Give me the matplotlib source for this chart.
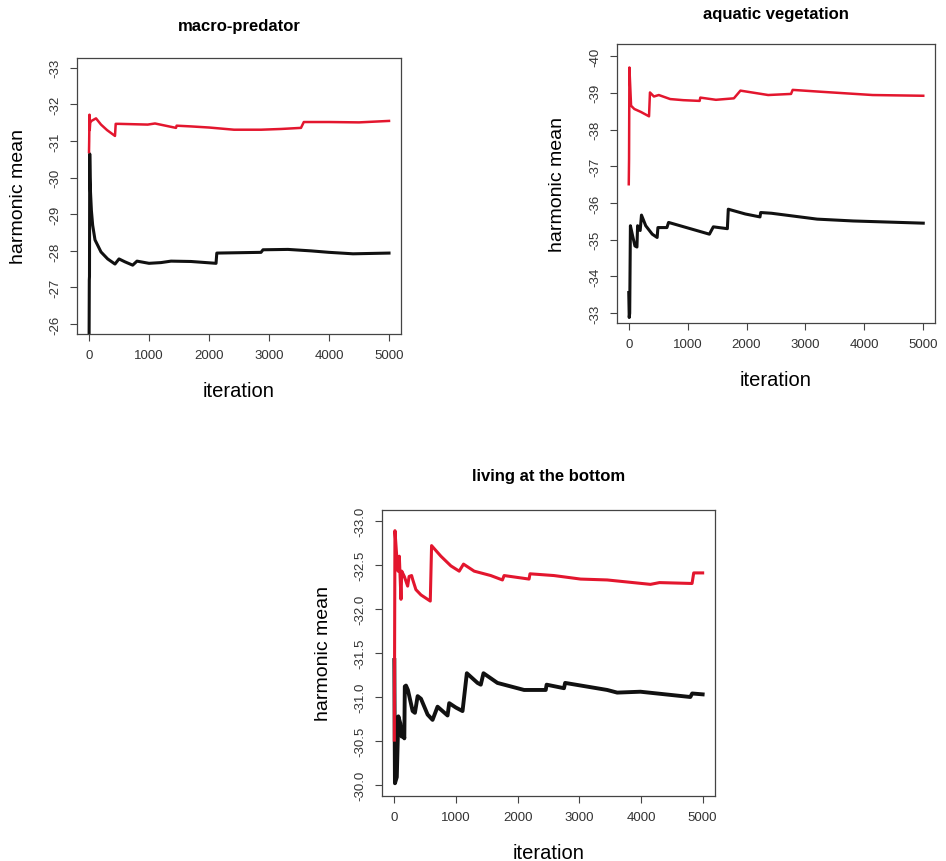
import matplotlib.pyplot as plt

plt.rcParams["font.family"] = ["Liberation Sans", "DejaVu Sans"]

RED = "#e3162e"
BLACK = "#111111"

# macro-predator
mp_red_x = [0, 3, 8, 12, 20, 40, 117, 200, 300, 433, 445, 500, 978, 1100, 1450, 1460, 1700,
            2000, 2417, 2867, 3200, 3533, 3580, 4000, 4500, 5000]
mp_red_y = [-30.7, -31.0, -31.72, -31.3, -31.5, -31.55, -31.62, -31.45, -31.3, -31.14, -31.47, -31.47,
            -31.45, -31.48, -31.36, -31.42, -31.40, -31.37, -31.31, -31.31, -31.33, -31.36, -31.52,
            -31.52, -31.51, -31.55]
mp_blk_x = [0, 5, 8, 12, 18, 25, 40, 61, 100, 200, 311, 433, 500, 600, 728, 800, 1000, 1200,
            1367, 1700, 2117, 2130, 2500, 2867, 2900, 3317, 3700, 4000, 4400, 5000]
mp_blk_y = [-25.0, -27.2, -27.3, -30.65, -30.0, -29.6, -29.1, -28.7, -28.3, -27.97, -27.78,
            -27.64, -27.78, -27.7, -27.61, -27.72, -27.66, -27.68, -27.72, -27.71, -27.66, -27.94,
            -27.95, -27.96, -28.03, -28.04, -28.0, -27.96, -27.92, -27.94]

# aquatic vegetation
av_red_x = [0, 5, 11, 39, 94, 150, 205, 344, 360, 427, 510, 704, 926, 1203, 1215, 1480, 1785,
            1896, 2367, 2755, 2783, 3254, 4140, 5000]
av_red_y = [-36.51, -37.2, -39.69, -38.65, -38.56, -38.52, -38.48, -38.36, -39.01, -38.9,
            -38.94, -38.83, -38.8, -38.78, -38.87, -38.81, -38.85, -39.06, -38.94, -38.97,
            -39.08, -39.03, -38.94, -38.92]
av_blk_x = [0, 8, 16, 28, 66, 105, 139, 150, 194, 216, 288, 399, 482, 495, 648, 676, 1369,
            1436, 1674, 1690, 1979, 2228, 2240, 2422, 3198, 3808, 5000]
av_blk_y = [-33.56, -32.88, -33.0, -35.38, -35.1, -34.83, -34.8, -35.38, -35.25, -35.67,
            -35.38, -35.15, -35.06, -35.33, -35.33, -35.47, -35.15, -35.35, -35.3, -35.83,
            -35.7, -35.62, -35.74, -35.72, -35.56, -35.51, -35.45]

# living at the bottom
lb_red_x = [0, 10, 43, 60, 81, 108, 120, 162, 216, 240, 280, 300, 350, 432, 583, 604, 755,
            917, 1052, 1122, 1295, 1564, 1753, 1780, 2185, 2200, 2589, 3021, 3452, 4153,
            4300, 4828, 4855, 5000]
lb_red_y = [-30.51, -32.89, -32.56, -32.43, -32.6, -32.11, -32.43, -32.37, -32.26, -32.37,
            -32.38, -32.33, -32.22, -32.16, -32.09, -32.72, -32.6, -32.49, -32.43, -32.51,
            -32.43, -32.38, -32.33, -32.38, -32.34, -32.4, -32.38, -32.34, -32.33, -32.28,
            -32.3, -32.29, -32.41, -32.41]
lb_blk_x = [0, 10, 40, 65, 97, 119, 135, 162, 170, 189, 220, 297, 334, 378, 432, 540, 620,
            701, 863, 890, 998, 1106, 1176, 1349, 1402, 1446, 1672, 2104, 2455, 2470, 2751,
            2770, 3452, 3614, 3991, 4800, 4830, 5000]
lb_blk_y = [-31.42, -30.02, -30.09, -30.78, -30.7, -30.55, -30.65, -30.53, -31.12, -31.13,
            -31.08, -30.84, -30.82, -31.01, -30.98, -30.8, -30.74, -30.89, -30.79, -30.93,
            -30.88, -30.84, -31.27, -31.16, -31.14, -31.27, -31.16, -31.08, -31.08, -31.14,
            -31.1, -31.16, -31.08, -31.05, -31.06, -31.0, -31.04, -31.03]

XTICKS = [0, 1000, 2000, 3000, 4000, 5000]


def panel(fig, rect, title, red, black, ylim, yticks, yfmt, lw=(1.8, 2.2), label_pos=(-0.182, -0.205, 1.115)):
    ax = fig.add_axes(rect)
    ax.plot(black[0], black[1], color=BLACK, lw=lw[1], solid_joinstyle="round")
    ax.plot(red[0], red[1], color=RED, lw=lw[0], solid_joinstyle="round")
    ax.set_xlim(-200, 5200)
    ax.set_ylim(*ylim)
    ax.set_xticks(XTICKS)
    ax.set_yticks(yticks)
    ax.set_yticklabels([yfmt.format(v) for v in yticks], rotation=90, va="center")
    ax.tick_params(length=5, width=0.8, color="#444444", labelsize=9.5, labelcolor="#333333", pad=6)
    for s in ax.spines.values():
        s.set_color("#444444")
        s.set_linewidth(0.9)
    xl, yl, tl = label_pos
    ax.text(xl, 0.5, "harmonic mean", transform=ax.transAxes, rotation=90, ha="center", va="center", fontsize=14)
    ax.text(0.5, yl, "iteration", transform=ax.transAxes, ha="center", va="center", fontsize=14.5)
    ax.text(0.5, tl, title, transform=ax.transAxes, ha="center", va="center", fontsize=12, fontweight="bold")
    return ax


fig = plt.figure(figsize=(9.46, 8.62), dpi=100)

panel(fig, [0.0814, 0.6114, 0.3425, 0.3202], "macro-predator",
      (mp_red_x, mp_red_y), (mp_blk_x, mp_blk_y),
      (-25.73, -33.27), [-33, -32, -31, -30, -29, -28, -27, -26], "{:.0f}",
      label_pos=(-0.182, -0.2065, 1.116))
panel(fig, [0.6522, 0.6241, 0.3362, 0.3237], "aquatic vegetation",
      (av_red_x, av_red_y), (av_blk_x, av_blk_y),
      (-32.73, -40.33), [-40, -39, -38, -37, -36, -35, -34, -33], "{:.0f}",
      label_pos=(-0.1855, -0.2007, 1.111))
panel(fig, [0.4038, 0.0754, 0.3520, 0.3318], "living at the bottom",
      (lb_red_x, lb_red_y), (lb_blk_x, lb_blk_y),
      (-29.875, -33.125), [-33.0, -32.5, -32.0, -31.5, -31.0, -30.5, -30.0], "{:.1f}",
      lw=(2.2, 2.8), label_pos=(-0.177, -0.196, 1.119))

fig.savefig("out.png", dpi=100)
